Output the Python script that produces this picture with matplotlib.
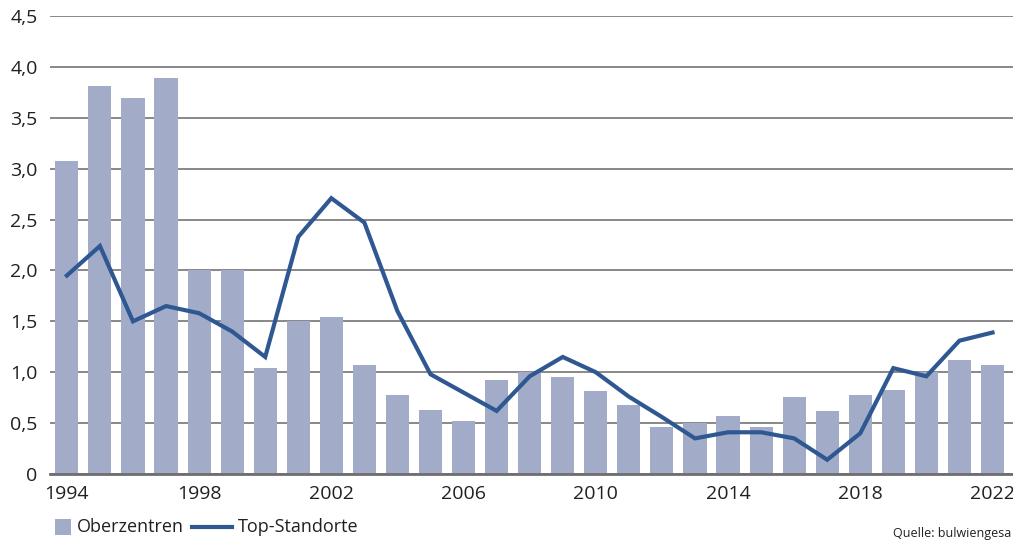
import matplotlib
matplotlib.use("Agg")
import matplotlib.pyplot as plt
from matplotlib.patches import Rectangle
from matplotlib.lines import Line2D

years = list(range(1994, 2023))
oberzentren = [3.08, 3.81, 3.69, 3.89, 2.00, 2.00, 1.04, 1.50, 1.54, 1.07,
               0.78, 0.63, 0.52, 0.92, 1.00, 0.95, 0.82, 0.68, 0.46, 0.50,
               0.57, 0.46, 0.76, 0.62, 0.78, 0.83, 1.00, 1.12, 1.07]
top_standorte = [1.95, 2.24, 1.50, 1.65, 1.58, 1.40, 1.15, 2.33, 2.71, 2.47,
                 1.60, 0.98, 0.80, 0.62, 0.96, 1.15, 1.00, 0.76, 0.56, 0.35,
                 0.41, 0.41, 0.35, 0.14, 0.40, 1.04, 0.96, 1.31, 1.39]
yticks = [0, 0.5, 1.0, 1.5, 2.0, 2.5, 3.0, 3.5, 4.0, 4.5]
ytick_labels = ["0", "0,5", "1,0", "1,5", "2,0", "2,5", "3,0", "3,5", "4,0", "4,5"]
xticks = [1994, 1998, 2002, 2006, 2010, 2014, 2018, 2022]
series_names = ["Oberzentren", "Top-Standorte"]
source = "Quelle: bulwiengesa"

plt.rcParams['font.family'] = ['Open Sans', 'DejaVu Sans']

bar_color = "#A2ACC8"
line_color = "#2F5892"
text_color = "#231F20"

W, H = 1013, 541
fig = plt.figure(figsize=(W/100, H/100), dpi=100)
ax = fig.add_axes([50/W, 1-474/H, 1-50/W, (474-16)/H])

ax.bar(years, oberzentren, width=0.7, color=bar_color, zorder=2)
ax.plot(years, top_standorte, color=line_color, lw=3, zorder=3, solid_joinstyle='miter')

ax.set_ylim(0, 4.5)
ax.set_xlim(1993.49, 2022.62)
ax.set_yticks(yticks)
ax.set_yticklabels(ytick_labels)
ax.set_xticks(xticks)
ax.set_xticklabels([str(x) for x in xticks])
ax.tick_params(axis='both', length=0, labelsize=14, colors=text_color)
ax.tick_params(axis='y', pad=9)
ax.tick_params(axis='x', pad=8)

ax.yaxis.grid(True, color="#7F7F7F", lw=1.3, zorder=1)
ax.set_axisbelow(True)
for s in ['top', 'right', 'left']:
    ax.spines[s].set_visible(False)
ax.spines['bottom'].set_color("#6E6E6E")
ax.spines['bottom'].set_linewidth(2)
ax.spines['bottom'].set_zorder(4)

# legend (figure pixel coordinates)
def fx(px):
    return px / W

def fy(py):
    return 1 - py / H

fig.patches.append(Rectangle((fx(55), fy(535)), 16/W, 16/H, transform=fig.transFigure,
                             facecolor=bar_color, edgecolor='none'))
fig.text(fx(77), fy(527), series_names[0], fontsize=13, color=text_color,
         ha='left', va='center')
fig.lines.append(Line2D([fx(192), fx(232)], [fy(527), fy(527)], transform=fig.transFigure,
                        color=line_color, lw=3))
fig.text(fx(238), fy(527), series_names[1], fontsize=13, color=text_color,
         ha='left', va='center')

fig.text(fx(1011), fy(540), source, fontsize=9, color=text_color,
         ha='right', va='bottom')

fig.savefig("out.png", dpi=100)
